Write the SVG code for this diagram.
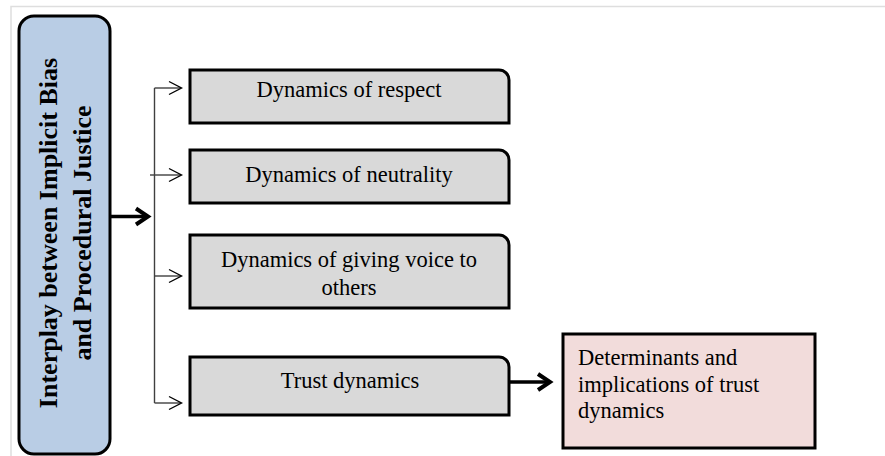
<svg xmlns="http://www.w3.org/2000/svg" width="885" height="456" viewBox="0 0 885 456">
<style>
.frame{fill:none;stroke:#dedede;stroke-width:1.5}
.main{fill:#b9cde5;stroke:#000;stroke-width:3}
.gray{fill:#d9d9d9;stroke:#000;stroke-width:3}
.pink{fill:#f2dcdb;stroke:#000;stroke-width:3}
.t{font-size:22.5px;fill:#000}
.tb{font-size:26px;font-weight:bold;fill:#000}
.thin{fill:none;stroke:#404040;stroke-width:1.4}
.thick{fill:none;stroke:#000;stroke-width:3.5}
.chev{fill:none;stroke:#000;stroke-width:1.4}
.chevb{fill:none;stroke:#000;stroke-width:4;stroke-linejoin:miter}
</style>
<rect class="frame" x="11" y="6.5" width="890" height="460"/>
<g font-family="'Liberation Serif', 'Times New Roman', 'DejaVu Serif', serif">
<g id="node-main">
<rect class="main" x="19" y="16" width="91" height="438" rx="15" ry="15"/>
<g transform="translate(57,233) rotate(-90)">
<text class="tb" x="0" y="0" text-anchor="middle">Interplay between Implicit Bias</text>
<text class="tb" x="0" y="34" text-anchor="middle">and Procedural Justice</text>
</g>
</g>
<g id="node-respect">
<path class="gray" d="M190,70 H499 A10,10 0 0 1 509,80 V123 H190 Z"/>
<text class="t" x="349" y="97" text-anchor="middle">Dynamics of respect</text>
</g>
<g id="node-neutrality">
<path class="gray" d="M190,150 H499 A10,10 0 0 1 509,160 V203 H190 Z"/>
<text class="t" x="349" y="182" text-anchor="middle">Dynamics of neutrality</text>
</g>
<g id="node-voice">
<path class="gray" d="M190,235 H499 A10,10 0 0 1 509,245 V308 H190 Z"/>
<text class="t" x="349" y="267" text-anchor="middle">Dynamics of giving voice to</text>
<text class="t" x="349" y="295" text-anchor="middle">others</text>
</g>
<g id="node-trust">
<path class="gray" d="M190,357 H499 A10,10 0 0 1 509,367 V415 H190 Z"/>
<text class="t" x="350" y="388" text-anchor="middle">Trust dynamics</text>
</g>
<g id="node-determinants">
<rect class="pink" x="563" y="334" width="252" height="114"/>
<text class="t" x="578" y="365">Determinants and</text>
<text class="t" x="578" y="392">implications of trust</text>
<text class="t" x="578" y="418">dynamics</text>
</g>
</g>
<g id="connectors">
<line class="thick" x1="110" y1="216.5" x2="148" y2="216.5"/>
<polyline class="chevb" points="136,208.5 148,216.5 136,224.5"/>
<line class="thin" x1="154.5" y1="88" x2="154.5" y2="403"/>
<line class="thin" x1="154.5" y1="88" x2="181" y2="88"/>
<polyline class="chev" points="169,81.5 181.5,88 169,94.5"/>
<line class="thin" x1="150" y1="175" x2="181" y2="175"/>
<polyline class="chev" points="169,168.5 181.5,175 169,181.5"/>
<line class="thin" x1="154.5" y1="276" x2="181" y2="276"/>
<polyline class="chev" points="169,269.5 181.5,276 169,282.5"/>
<line class="thin" x1="154.5" y1="403" x2="181" y2="403"/>
<polyline class="chev" points="169,396.5 181.5,403 169,409.5"/>
<line class="thick" x1="509" y1="382" x2="550" y2="382"/>
<polyline class="chevb" points="538,374 550,382 538,390"/>
</g>
</svg>
